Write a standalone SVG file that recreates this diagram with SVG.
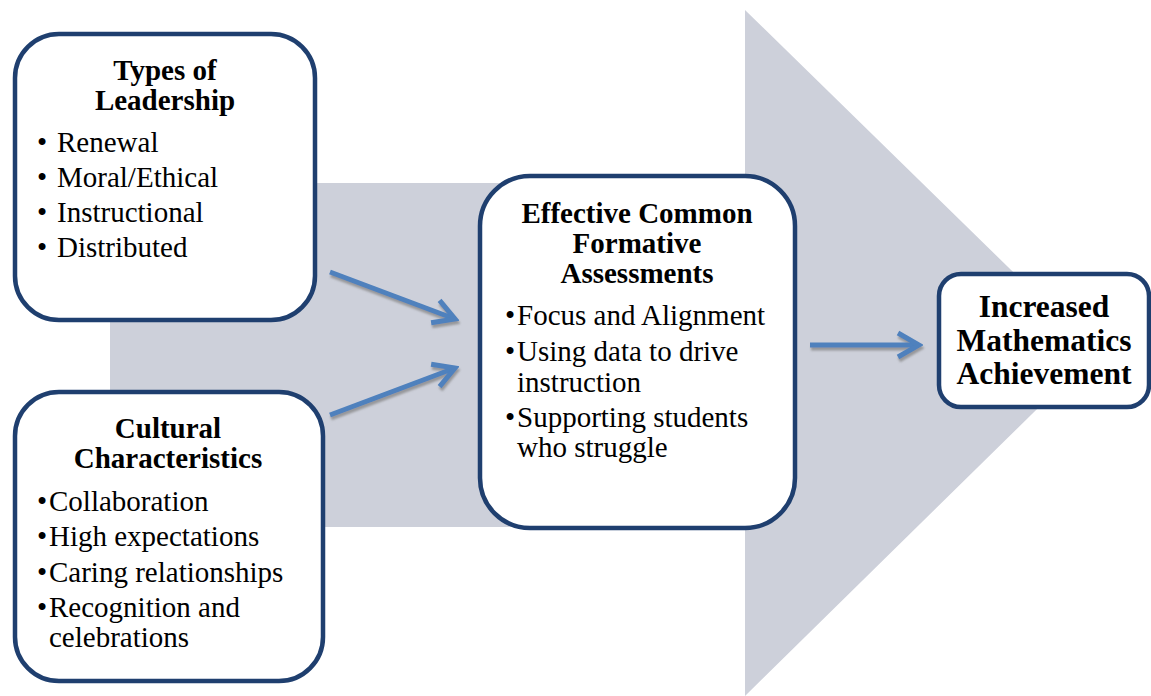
<svg xmlns="http://www.w3.org/2000/svg" width="1151" height="696" viewBox="0 0 1151 696">
<style>
text{font-family:'Liberation Serif','Tinos','Times New Roman','DejaVu Serif',serif;fill:#000}
.box{fill:#ffffff;stroke:#1f3f6f;stroke-width:4.5}
.ttl{font-size:29px;font-weight:bold;text-anchor:middle}
.big{font-size:31.5px;font-weight:bold;text-anchor:middle}
.b{font-size:29px}
.conn{fill:none;stroke:#4f81bd;stroke-width:5}
</style>
<defs>
<filter id="sh" x="-20%" y="-50%" width="140%" height="200%">
<feDropShadow dx="1" dy="3" stdDeviation="1" flood-color="#7f7f7f" flood-opacity="0.7"/>
</filter>
<marker id="chev" markerUnits="userSpaceOnUse" viewBox="-26 -16 30 32" refX="0" refY="0" markerWidth="30" markerHeight="32" orient="auto">
<path d="M-21,-12 L0,0 L-21,12" fill="none" stroke="#4f81bd" stroke-width="5" stroke-linejoin="miter"/>
</marker>
</defs>
<polygon id="background-arrow" points="110,183 745,183 745,10 1095,352 745,696 745,527 110,527" fill="#cdd0da"/>
<g id="connectors" filter="url(#sh)">
<line class="conn" x1="330" y1="272" x2="455" y2="319" marker-end="url(#chev)"/>
<line class="conn" x1="330" y1="415" x2="455" y2="368" marker-end="url(#chev)"/>
<line class="conn" x1="810" y1="345" x2="919" y2="345" marker-end="url(#chev)"/>
</g>
<g id="node-leadership" font-family="Liberation Serif, serif">
<rect class="box" x="15" y="34" width="300" height="286" rx="44"/>
<text class="ttl" x="165" y="80">Types of</text>
<text class="ttl" x="165" y="110">Leadership</text>
<text class="b" x="37" y="152">•</text><text class="b" x="57" y="152">Renewal</text>
<text class="b" x="37" y="187">•</text><text class="b" x="57" y="187">Moral/Ethical</text>
<text class="b" x="37" y="222">•</text><text class="b" x="57" y="222">Instructional</text>
<text class="b" x="37" y="257">•</text><text class="b" x="57" y="257">Distributed</text>
</g>
<g id="node-culture" font-family="Liberation Serif, serif">
<rect class="box" x="15" y="392" width="308" height="289" rx="44"/>
<text class="ttl" x="168" y="438">Cultural</text>
<text class="ttl" x="168" y="468">Characteristics</text>
<text class="b" x="37" y="511">•</text><text class="b" x="49" y="511">Collaboration</text>
<text class="b" x="37" y="546">•</text><text class="b" x="49" y="546">High expectations</text>
<text class="b" x="37" y="582">•</text><text class="b" x="49" y="582">Caring relationships</text>
<text class="b" x="37" y="617">•</text><text class="b" x="49" y="617">Recognition and</text>
<text class="b" x="49" y="647">celebrations</text>
</g>
<g id="node-assessments" font-family="Liberation Serif, serif">
<rect class="box" x="480" y="176" width="315" height="352" rx="50"/>
<text class="ttl" x="637" y="223">Effective Common</text>
<text class="ttl" x="637" y="253">Formative</text>
<text class="ttl" x="637" y="283">Assessments</text>
<text class="b" x="505" y="325">•</text><text class="b" x="517" y="325">Focus and Alignment</text>
<text class="b" x="505" y="361">•</text><text class="b" x="517" y="361">Using data to drive</text>
<text class="b" x="517" y="392">instruction</text>
<text class="b" x="505" y="427">•</text><text class="b" x="517" y="427">Supporting students</text>
<text class="b" x="517" y="457">who struggle</text>
</g>
<g id="node-achievement" font-family="Liberation Serif, serif">
<rect class="box" x="939" y="274" width="210" height="133" rx="22"/>
<text class="big" x="1044" y="317">Increased</text>
<text class="big" x="1044" y="351">Mathematics</text>
<text class="big" x="1044" y="384">Achievement</text>
</g>
</svg>
